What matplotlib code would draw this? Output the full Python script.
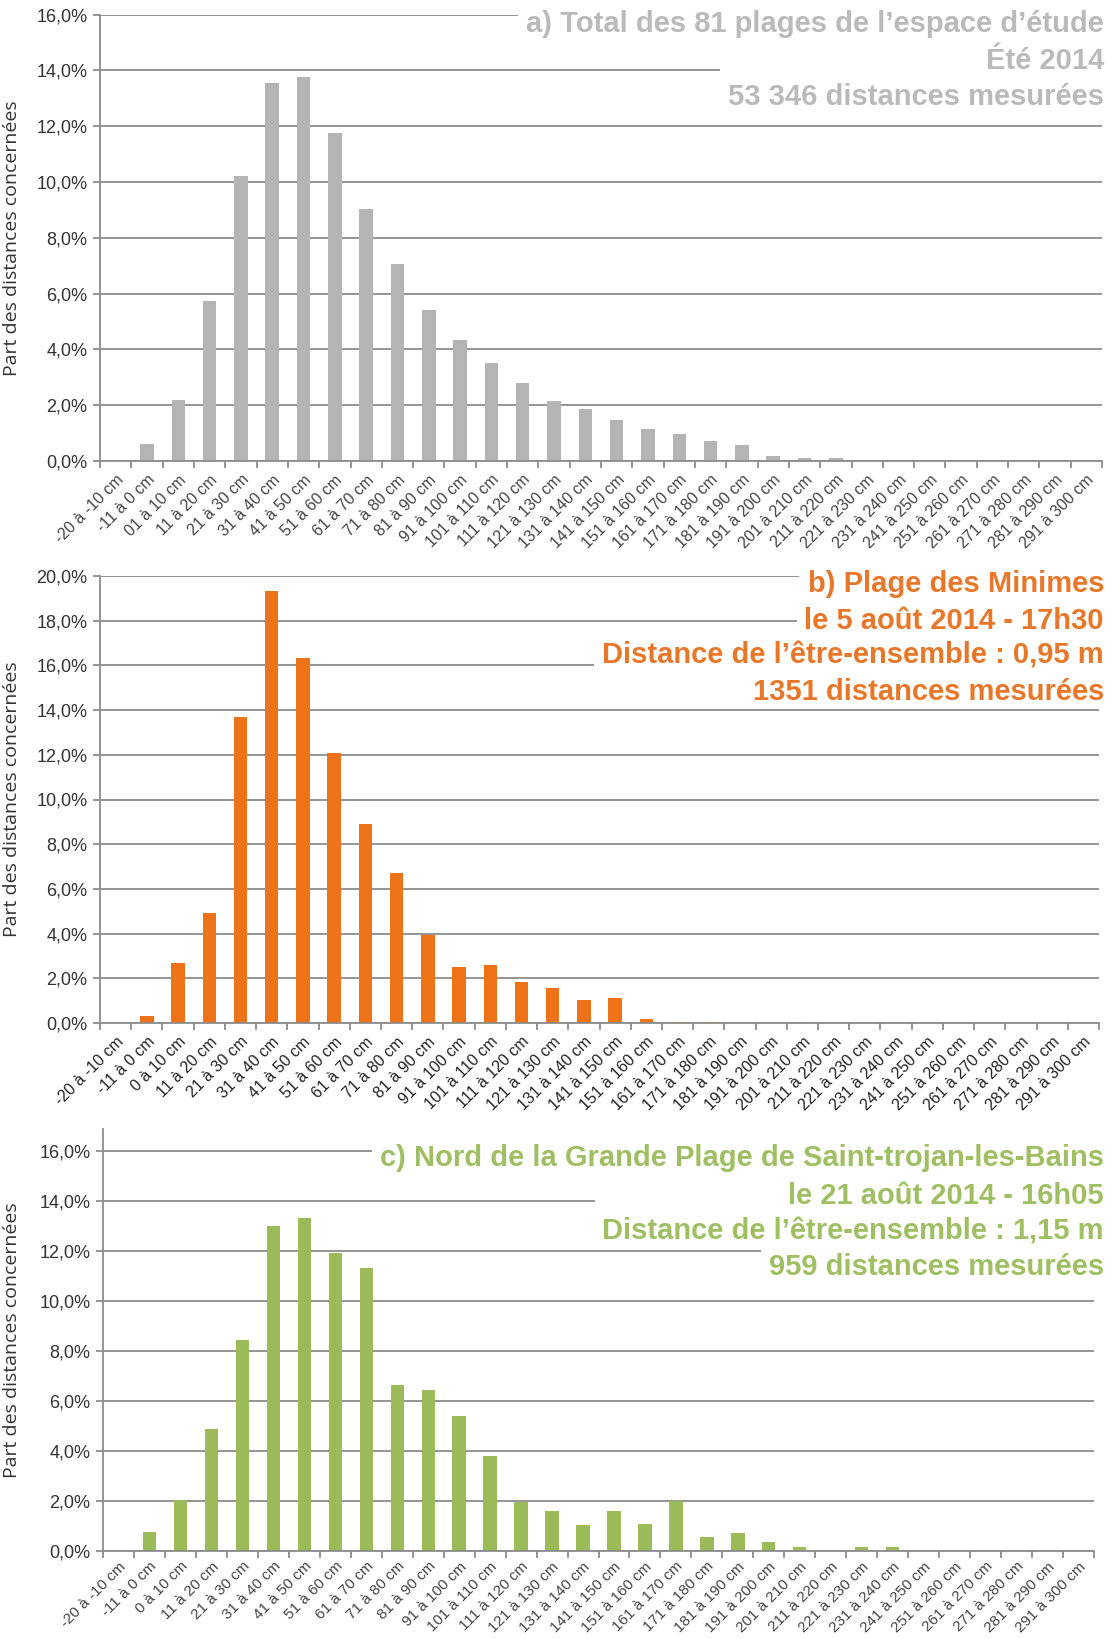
import matplotlib
matplotlib.use('Agg')
import matplotlib.pyplot as plt
import numpy as np
from matplotlib.patches import Rectangle
from matplotlib.ticker import FuncFormatter

W, H = 1114, 1639

# categories (x axis)
labels_a = ['-20 à -10 cm', '-11 à 0 cm', '01 à 10 cm'] + ['%d à %d cm' % (s, s + 9) for s in range(11, 300, 10)]
labels_bc = ['-20 à -10 cm', '-11 à 0 cm', '0 à 10 cm'] + ['%d à %d cm' % (s, s + 9) for s in range(11, 300, 10)]

# share of distances (%)
total_81 = [0.05, 0.6, 2.2, 5.75, 10.2, 13.55, 13.75, 11.75, 9.05, 7.05, 5.4, 4.35, 3.5, 2.8, 2.15, 1.87,
            1.46, 1.16, 0.95, 0.7, 0.59, 0.18, 0.12, 0.12, 0.04, 0.03, 0.03, 0.03, 0.03, 0.04, 0.03, 0.03]
minimes = [0, 0.32, 2.67, 4.94, 13.67, 19.33, 16.33, 12.06, 8.9, 6.71, 3.95, 2.51, 2.59, 1.84, 1.55, 1.02,
           1.1, 0.16, 0.03, 0.04, 0, 0, 0.05, 0, 0.04, 0.05, 0, 0, 0, 0, 0, 0]
saint_trojan = [0, 0.77, 2.06, 4.87, 8.46, 13.0, 13.34, 11.92, 11.34, 6.65, 6.45, 5.4, 3.82, 1.97, 1.6, 1.04,
                1.6, 1.1, 2.0, 0.57, 0.71, 0.37, 0.17, 0, 0.17, 0.17, 0, 0, 0, 0, 0, 0]

titles_a = ["a) Total des 81 plages de l’espace d’étude", "Été 2014", "53 346 distances mesurées"]
titles_b = ["b) Plage des Minimes", "le 5 août 2014 - 17h30",
            "Distance de l’être-ensemble : 0,95 m", "1351 distances mesurées"]
titles_c = ["c) Nord de la Grande Plage de Saint-trojan-les-Bains", "le 21 août 2014 - 16h05",
            "Distance de l’être-ensemble : 1,15 m", "959 distances mesurées"]

grid_col = '#8c8c8c'
fig = plt.figure(figsize=(W / 100, H / 100), dpi=100)


def pct(v, p):
    return ('%.1f%%' % v).replace('.', ',')


def panel(l, t, r, b, vals, labels, color, ymax, ytop, lab_col, lab_size, lab_pad):
    ax = fig.add_axes([l / W, 1 - b / H, (r - l) / W, (b - t) / H])
    x = np.arange(len(vals))
    ax.bar(x, vals, width=0.43, color=color, zorder=2)
    ax.set_xlim(-0.5, len(vals) - 0.5)
    ax.set_ylim(0, ytop)
    ax.set_yticks(np.arange(0, ymax + 0.1, 2))
    ax.yaxis.set_major_formatter(FuncFormatter(pct))
    ax.grid(axis='y', color=grid_col, lw=1.3)
    ax.set_axisbelow(True)
    for s in ['top', 'right']:
        ax.spines[s].set_visible(False)
    for s in ['left', 'bottom']:
        ax.spines[s].set_color(grid_col)
        ax.spines[s].set_linewidth(1.3)
    ax.set_xticks(x)
    ax.set_xticklabels(labels, rotation=45, ha='right', va='top', rotation_mode='anchor',
                       fontsize=lab_size, family='Liberation Sans', color=lab_col)
    ax.set_xticks(np.arange(-0.5, len(vals)), minor=True)
    ax.tick_params(axis='x', which='major', length=0, pad=lab_pad)
    ax.tick_params(axis='x', which='minor', length=5, color=grid_col, width=1.3)
    ax.tick_params(axis='y', length=5, color=grid_col, width=1.3, labelsize=13, pad=4, labelcolor='#333333')
    for tl in ax.get_yticklabels():
        tl.set_family('Liberation Sans')
    ax.set_ylabel('Part des distances concernées', fontsize=14, family='Open Sans', color='#333333')
    ax.yaxis.set_label_coords(-(l - 21) / (r - l), 0.5)
    return ax


panel(100, 14.6, 1102, 461, total_81, labels_a, '#b4b4b4', 16, 16, '#444444', 11.5, 8)
panel(100, 576, 1099, 1023, minimes, labels_bc, '#ee7318', 20, 20, '#222222', 11.5, 8)
panel(103, 1129, 1094, 1551, saint_trojan, labels_bc, '#9bbb59', 16, 16.88, '#444444', 11, 6)

# titles, one text per line, each on a white block that hides the gridlines
title_texts = []
for lines, ys, col in [(titles_a, [24, 61, 97], '#bababa'),
                       (titles_b, [584, 621, 656, 692], '#e8772a'),
                       (titles_c, [1158, 1196, 1232, 1267], '#9fbf62')]:
    for s, y in zip(lines, ys):
        t = fig.text(1104 / W, 1 - y / H, s, ha='right', va='center', fontsize=21,
                     fontweight='bold', family='Liberation Sans', color=col, zorder=3)
        title_texts.append(t)

fig.canvas.draw()
ren = fig.canvas.get_renderer()
for t in title_texts:
    bb = t.get_window_extent(ren)
    yc = (bb.y0 + bb.y1) / 2
    x0, x1 = bb.x0 - 8, bb.x1 + 4
    y0, y1 = yc - 17, yc + 32
    fig.add_artist(Rectangle((x0 / W, y0 / H), (x1 - x0) / W, (y1 - y0) / H,
                             transform=fig.transFigure, facecolor='white', edgecolor='none', zorder=1))

fig.savefig('out.png', dpi=100)
